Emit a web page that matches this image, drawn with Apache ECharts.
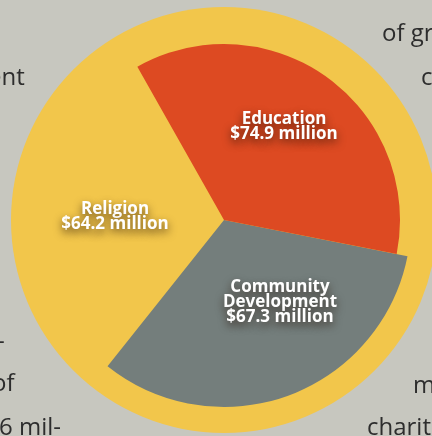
<!DOCTYPE html>
<html>
<head>
<meta charset="utf-8">
<script src="https://cdn.jsdelivr.net/npm/echarts@6/dist/echarts.min.js"></script>
<style>
html,body{margin:0;padding:0;background:#c7c7bf;}
#c{width:432px;height:436px;}
</style>
</head>
<body>
<div id="c"></div>
<script>
var categories = ['Education', 'Community Development', 'Religion'];
var values = [74.9, 67.3, 64.2];
var valueLabels = ['$74.9 million', '$67.3 million', '$64.2 million'];
var displayNames = ['Education', 'Community\nDevelopment', 'Religion'];
var backgroundFragments = ['of gr', 'co', 'ent', '-', 'of', '6 mil-', 'mi', 'charitable'];

var YELLOW = '#f2c64b', RED = '#dd4a22', GRAY = '#747e7c', NONE = 'rgba(0,0,0,0)';
var CENTER = [224, 220];

function build(colors) {
  return categories.map(function (c, i) {
    return { name: c, value: values[i], itemStyle: { color: colors[i] } };
  });
}

// positions (left, baseline) of background page-text fragments behind the chart
var fragPos = [[382, 40], [421, 84], [-12, 84], [-3, 348], [-8, 390], [-1, 434], [413, 392], [367, 434]];
var labelPos = [[284, 127], [280, 302], [115, 217]];

var chart = echarts.init(document.getElementById('c'));
chart.setOption({
  animation: false,
  backgroundColor: '#c7c7bf',
  graphic: backgroundFragments.map(function (t, i) {
    return {
      type: 'text', z: -10, left: fragPos[i][0], top: fragPos[i][1] - 18,
      style: { text: t, fill: '#2d2d2d', font: '24px "Open Sans"' }
    };
  }),
  series: [
    {
      type: 'pie', center: CENTER, radius: 213, silent: true, startAngle: 90,
      label: { show: false }, labelLine: { show: false },
      data: [{ name: 'ring', value: 1, itemStyle: { color: YELLOW } }]
    },
    {
      type: 'pie', center: CENTER, radius: 187, silent: true, startAngle: 119.5,
      label: { show: false }, labelLine: { show: false },
      data: build([NONE, GRAY, NONE])
    },
    {
      type: 'pie', center: CENTER, radius: 176, silent: true, startAngle: 119.5,
      label: { show: false }, labelLine: { show: false },
      data: build([RED, NONE, NONE])
    },
    {
      type: 'pie', center: CENTER, radius: 187, silent: true, startAngle: 119.5,
      itemStyle: { color: NONE },
      labelLine: { show: false },
      label: {
        show: true, position: 'inside',
        formatter: function (p) { return displayNames[p.dataIndex] + '\n' + valueLabels[p.dataIndex]; },
        color: '#ffffff', fontFamily: 'Open Sans', fontWeight: 'bold', fontSize: 17, lineHeight: 15,
        align: 'center',
        textShadowColor: 'rgba(40,20,10,0.75)', textShadowBlur: 8, textShadowOffsetY: 4
      },
      labelLayout: function (p) {
        return { x: labelPos[p.dataIndex][0], y: labelPos[p.dataIndex][1], align: 'center', verticalAlign: 'middle' };
      },
      data: build([NONE, NONE, NONE])
    }
  ]
});
</script>
</body>
</html>
